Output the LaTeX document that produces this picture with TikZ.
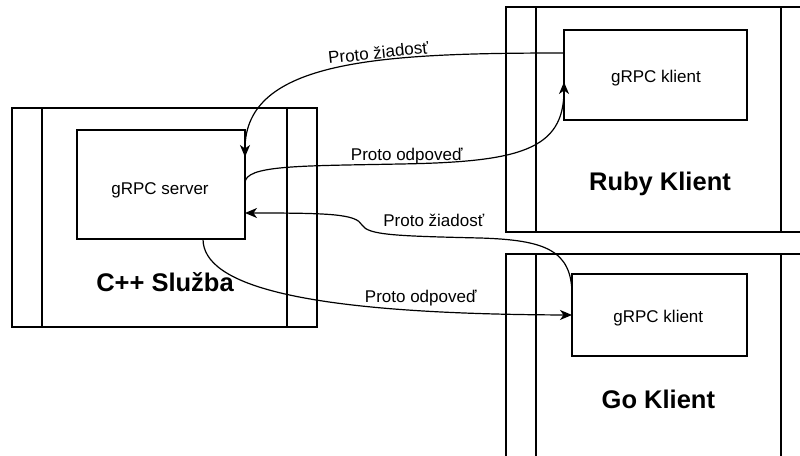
\documentclass[tikz,border=0pt]{standalone}
\usepackage{fontspec}
\setmainfont{Liberation Sans}
\usetikzlibrary{arrows.meta,calc}

\begin{document}
\begin{tikzpicture}[x=1pt,y=-1pt,
  % service / client container with the two inner bars
  proc/.style={draw, line width=1.2pt, inner sep=0pt, outer sep=0pt,
    minimum width=305pt,
    path picture={
      \draw[line width=1.2pt]
        ([xshift=30pt]path picture bounding box.north west) --
        ([xshift=30pt]path picture bounding box.south west)
        ([xshift=-30pt]path picture bounding box.north east) --
        ([xshift=-30pt]path picture bounding box.south east);}},
  rpcbox/.style={draw, line width=1.2pt, inner sep=0pt, outer sep=0pt},
  small/.style={font=\fontsize{17}{20}\selectfont, inner sep=0pt, anchor=base},
  big/.style={font=\fontsize{25.5}{30}\selectfont\bfseries, inner sep=0pt, anchor=base},
  flow/.style={line width=1.2pt, -{Stealth[length=12pt,width=10pt,inset=3.5pt]}}]

\useasboundingbox (0,0) rectangle (800,455);
\clip (0,0) rectangle (800,455);

% containers
\node[proc, minimum height=219pt] (cpp)  at (164.5,217.5) {};
\node[proc, minimum height=225pt] (ruby) at (658.5,119.5) {};
\node[proc, minimum height=225pt] (go)   at (658.5,366.5) {};

% gRPC endpoints
\node[rpcbox, minimum width=168pt, minimum height=109pt] (srv) at (161,184.5) {};
\node[rpcbox, minimum width=183pt, minimum height=90pt]  (rk)  at (655.5,75) {};
\node[rpcbox, minimum width=175pt, minimum height=82pt]  (gk)  at (659.5,315) {};

% box texts
\node[small] (srvtxt) at (160,194.3) {gRPC server};
\node[small] (rktxt)  at (656,82.7)  {gRPC klient};
\node[small] (gktxt)  at (658.3,322.3) {gRPC klient};
\node[big] (cpptxt)  at (165,291.7) {C++ Služba};
\node[big] (rubytxt) at (660,190.7) {Ruby Klient};
\node[big] (gotxt)   at (658.4,408.3) {Go Klient};

% Ruby client <-> server
\draw[flow] ($(rk.north west)+(0,23)$) .. controls (380,53) and (245,60) ..
  ($(srv.north east)+(0,27)$);
\draw[flow] ($(srv.north east)+(0,53)$) .. controls (245,165) and (300,166) .. (400,164)
  .. controls (520,162) and (564,150) .. ($(rk.north west)+(0,52)$);

% Go client <-> server
\draw[flow] ($(gk.north west)+(0,21)$) .. controls (572,250) and (545,240) .. (480,238)
  .. controls (395,236) and (368,235) .. (362,225)
  .. controls (356,214) and (330,213) .. ($(srv.north east)+(0,83)$);
\draw[flow] ($(srv.south west)+(126,0)$) .. controls (203,285) and (300,314) .. (gk.west);

% message labels
\node[small, rotate=6] (req1) at (379,58.7) {Proto žiadosť};
\node[small] (resp1) at (406.7,160) {Proto odpoveď};
\node[small] (req2)  at (433.8,226) {Proto žiadosť};
\node[small] (resp2) at (420.7,302) {Proto odpoveď};
\end{tikzpicture}
\end{document}
